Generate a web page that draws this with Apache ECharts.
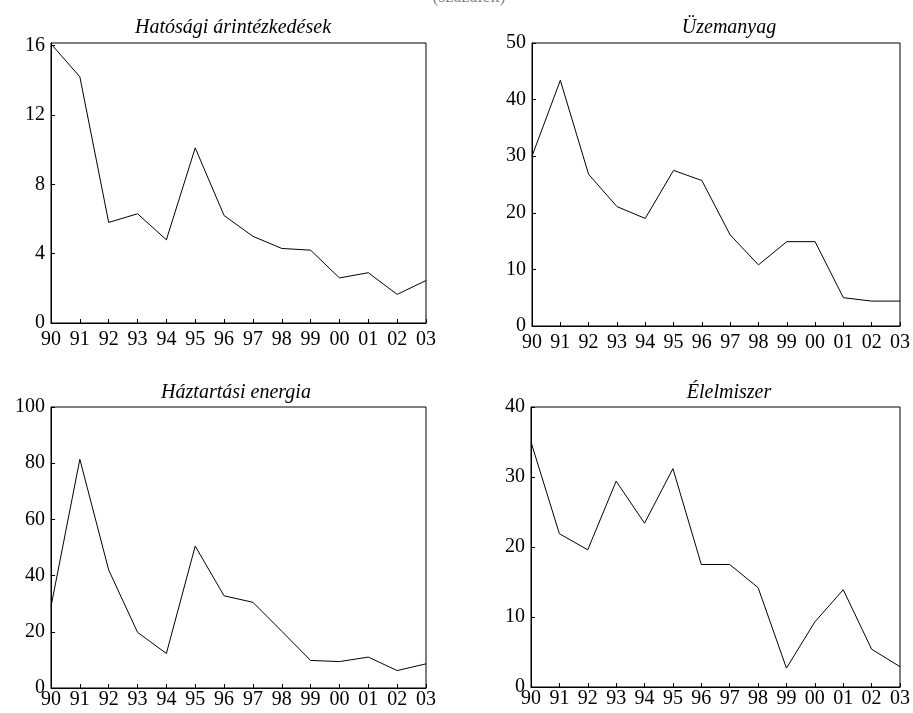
<!DOCTYPE html>
<html>
<head>
<meta charset="utf-8">
<script src="https://cdn.jsdelivr.net/npm/echarts@6/dist/echarts.min.js"></script>
<style>html,body{margin:0;padding:0;background:#fff}#c{width:913px;height:713px}</style>
</head>
<body>
<div id="c"></div>
<script>
var years = ['90','91','92','93','94','95','96','97','98','99','00','01','02','03'];
var hatosagi = [16.1,14.2,5.8,6.3,4.8,10.1,6.2,5.0,4.3,4.2,2.6,2.9,1.65,2.45];
var uzemanyag = [30.0,43.4,26.8,21.1,19.0,27.5,25.7,16.1,10.8,14.9,14.9,5.0,4.4,4.4];
var haztartasi = [29.0,81.4,42.0,19.8,12.3,50.5,32.8,30.5,20.2,9.8,9.4,11.0,6.2,8.6];
var elelmiszer = [35.0,21.9,19.6,29.4,23.4,31.2,17.5,17.5,14.2,2.7,9.3,13.9,5.4,2.9];
var titles = ['Hatósági árintézkedések','Üzemanyag','Háztartási energia','Élelmiszer'];
var yMax = [16.15, 50, 100, 40];
var yInterval = [4, 10, 20, 10];
var supTitle = '(százalék)';

var font = '"Liberation Serif", "DejaVu Serif", serif';
var grids = [
  {left:51, right:487, top:43, bottom:390},
  {left:532, right:7, top:43, bottom:387},
  {left:51, right:487, top:407, bottom:25},
  {left:531, right:7, top:407, bottom:26}
];
var titlePos = [
  {x:228, y:13},
  {x:724, y:13},
  {x:231, y:378},
  {x:724, y:378}
];
var labelMargin = [7,7,2,2];
var seriesData = [hatosagi, uzemanyag, haztartasi, elelmiszer];

var option = {
  backgroundColor:'#fff',
  animation:false,
  title: [{text: supTitle, left: 464, top: -17, textAlign:'center',
           textStyle:{fontFamily:font, fontWeight:'normal', fontSize:18, color:'#888'}}].concat(
    titles.map(function(t,i){
      return {text:t, left:titlePos[i].x, top:titlePos[i].y, textAlign:'center',
        textStyle:{fontFamily:font, fontStyle:'italic', fontWeight:'normal', fontSize:20, color:'#000'}};
    })),
  grid: grids.map(function(g){
    return Object.assign({show:true, borderColor:'#000', borderWidth:1, backgroundColor:'transparent', containLabel:false}, g);
  }),
  xAxis: grids.map(function(g,i){
    return {type:'category', gridIndex:i, data:years, boundaryGap:false,
      axisLine:{show:true, lineStyle:{color:'#000', width:1}},
      axisTick:{show:true, inside:true, length:4, lineStyle:{color:'#000'}, alignWithLabel:true},
      axisLabel:{interval:0, color:'#000', fontFamily:font, fontSize:20, margin:labelMargin[i]},
      splitLine:{show:false}};
  }),
  yAxis: grids.map(function(g,i){
    return {type:'value', gridIndex:i, min:0, max:yMax[i], interval:yInterval[i],
      axisLine:{show:true, lineStyle:{color:'#000', width:1}},
      axisTick:{show:true, inside:true, length:4, lineStyle:{color:'#000'}},
      axisLabel:{color:'#000', fontFamily:font, fontSize:20, margin:6, showMaxLabel: i===0 ? false : true},
      splitLine:{show:false}};
  }),
  series: seriesData.map(function(d,i){
    return {type:'line', xAxisIndex:i, yAxisIndex:i, data:d, symbol:'none',
      lineStyle:{color:'#000', width:1}, itemStyle:{color:'#000'}};
  })
};
var chart = echarts.init(document.getElementById('c'), null, {renderer:'canvas'});
chart.setOption(option);
</script>
</body>
</html>
